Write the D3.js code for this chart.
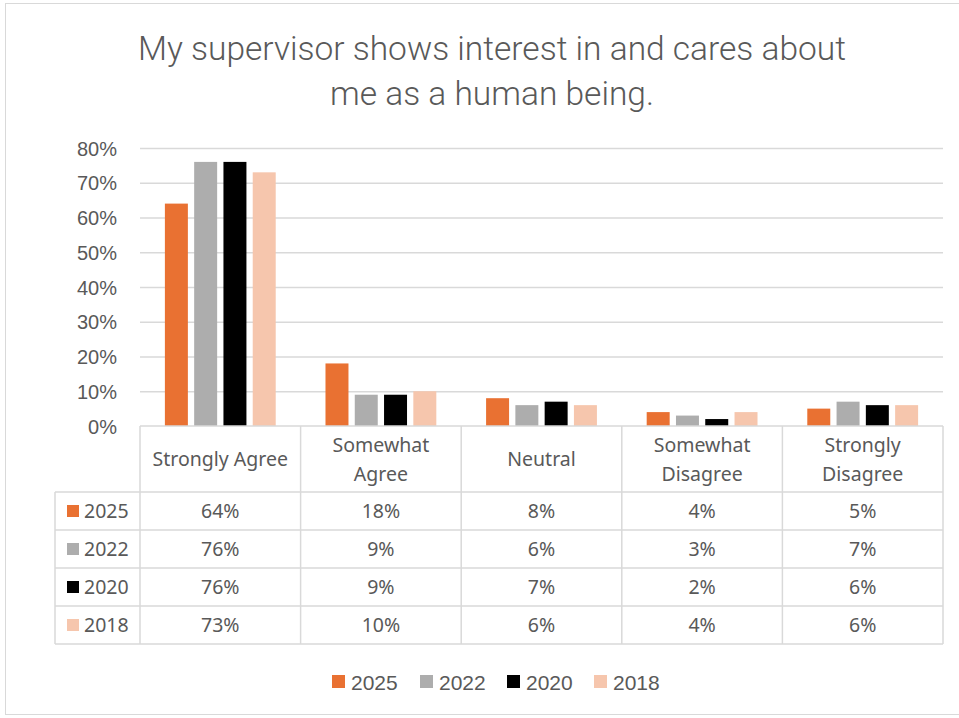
<!DOCTYPE html>
<html>
<head>
<meta charset="utf-8">
<script src="https://cdn.jsdelivr.net/npm/d3@7"></script>
<style>
  html, body { margin: 0; padding: 0; background: #fff; }
  svg { display: block; }
</style>
</head>
<body>
<svg id="chart" width="959" height="718"></svg>
<script>
// Survey responses by category and survey year
const categories = ["Strongly Agree", "Somewhat Agree", "Neutral", "Somewhat Disagree", "Strongly Disagree"];
const categoryLines = [["Strongly Agree"], ["Somewhat", "Agree"], ["Neutral"], ["Somewhat", "Disagree"], ["Strongly", "Disagree"]];
const years = ["2025", "2022", "2020", "2018"];
const values2025 = [64, 18, 8, 4, 5];
const values2022 = [76, 9, 6, 3, 7];
const values2020 = [76, 9, 7, 2, 6];
const values2018 = [73, 10, 6, 4, 6];
const yTicks = [0, 10, 20, 30, 40, 50, 60, 70, 80];
const colors = ["#E97132", "#ADADAD", "#000000", "#F6C6AD"];
const titleLines = ["My supervisor shows interest in and cares about", "me as a human being."];

const seriesValues = [values2025, values2022, values2020, values2018];

const svg = d3.select("#chart");
const textColor = "#595959";
const lineColor = "#D9D9D9";
const bodyFont = "'Noto Sans', 'Open Sans', sans-serif";
const axisFont = "'Liberation Sans', Arial, sans-serif";

// chart frame
svg.append("rect")
  .attr("x", 5.5).attr("y", 3.5).attr("width", 960).attr("height", 711)
  .attr("fill", "#fff").attr("stroke", "#D9D9D9").attr("stroke-width", 1);

// title
svg.append("g").selectAll("text").data(titleLines).join("text")
  .attr("x", 492).attr("y", (d, i) => 60 + i * 45)
  .attr("text-anchor", "middle")
  .attr("font-family", "Roboto, sans-serif")
  .attr("font-weight", 300)
  .attr("font-size", 33.5)
  .attr("fill", textColor)
  .text(d => d);

// scales
const plotLeft = 140, plotRight = 943, plotTop = 148, plotBottom = 426;
const x = d3.scaleBand().domain(categories).range([plotLeft, plotRight]).paddingInner(0).paddingOuter(0);
const inner = d3.scaleBand().domain(years).range([0, x.bandwidth()]).paddingInner(0.215).paddingOuter(0.85);
const y = d3.scaleLinear().domain([0, 80]).range([plotBottom, plotTop]);

// gridlines
svg.append("g")
  .attr("transform", `translate(${plotLeft},0)`)
  .call(d3.axisLeft(y).tickValues(yTicks.filter(t => t > 0)).tickSize(-(plotRight - plotLeft)).tickFormat(""))
  .call(g => g.select(".domain").remove())
  .call(g => g.selectAll(".tick line").attr("stroke", lineColor).attr("stroke-width", 1.3));

// y-axis labels
svg.append("g")
  .attr("transform", `translate(${plotLeft},0)`)
  .call(d3.axisLeft(y).tickValues(yTicks).tickSize(0).tickPadding(23).tickFormat(d => d + "%"))
  .call(g => g.select(".domain").remove())
  .call(g => g.selectAll("text")
    .attr("font-family", axisFont).attr("font-size", 20).attr("fill", textColor).attr("dy", "0.35em"));

// bars
const barData = [];
seriesValues.forEach((vals, si) => vals.forEach((v, ci) => barData.push({ cat: categories[ci], year: years[si], v, si })));
svg.append("g").selectAll("rect").data(barData).join("rect")
  .attr("x", d => x(d.cat) + inner(d.year))
  .attr("width", inner.bandwidth())
  .attr("y", d => y(d.v))
  .attr("height", d => y(0) - y(d.v))
  .attr("fill", d => colors[d.si]);

// data table
const rowTop = 492, rowH = 38;
const tableLeft = 55;
const tbl = svg.append("g").attr("fill", "none").attr("stroke", lineColor).attr("stroke-width", 1.5);
// header cell borders
tbl.append("line").attr("x1", plotLeft).attr("x2", plotRight).attr("y1", plotBottom).attr("y2", plotBottom);
// row borders
years.concat(["end"]).forEach((_, i) => {
  tbl.append("line").attr("x1", tableLeft).attr("x2", plotRight)
    .attr("y1", rowTop + i * rowH).attr("y2", rowTop + i * rowH);
});
// vertical borders
tbl.append("line").attr("x1", tableLeft).attr("x2", tableLeft).attr("y1", rowTop).attr("y2", rowTop + years.length * rowH);
categories.forEach(c => {
  tbl.append("line").attr("x1", x(c)).attr("x2", x(c)).attr("y1", plotBottom).attr("y2", rowTop + years.length * rowH);
});
tbl.append("line").attr("x1", plotRight).attr("x2", plotRight).attr("y1", plotBottom).attr("y2", rowTop + years.length * rowH);

// category headers
const hdr = svg.append("g").attr("font-family", bodyFont).attr("font-size", 19.5).attr("fill", textColor).attr("text-anchor", "middle");
categories.forEach((c, ci) => {
  const lines = categoryLines[ci];
  const cy = (plotBottom + rowTop) / 2;
  lines.forEach((ln, li) => {
    hdr.append("text")
      .attr("x", x(c) + x.bandwidth() / 2)
      .attr("y", cy + (li - (lines.length - 1) / 2) * 29)
      .attr("dy", "0.36em")
      .text(ln);
  });
});

// table rows
years.forEach((yr, si) => {
  const ry = rowTop + si * rowH + rowH / 2;
  svg.append("rect").attr("x", 67).attr("y", ry - 6).attr("width", 12).attr("height", 12).attr("fill", colors[si]);
  svg.append("text").attr("x", 84).attr("y", ry).attr("dy", "0.36em")
    .attr("font-family", bodyFont).attr("font-size", 19.5).attr("fill", textColor).text(yr);
  seriesValues[si].forEach((v, ci) => {
    svg.append("text")
      .attr("x", x(categories[ci]) + x.bandwidth() / 2).attr("y", ry).attr("dy", "0.36em")
      .attr("text-anchor", "middle")
      .attr("font-family", bodyFont).attr("font-size", 19.5).attr("fill", textColor)
      .text(v + "%");
  });
});

// legend
const legendX = [332, 420, 507, 594];
const legend = svg.append("g");
years.forEach((yr, si) => {
  legend.append("rect").attr("x", legendX[si]).attr("y", 675).attr("width", 13).attr("height", 13).attr("fill", colors[si]);
  legend.append("text").attr("x", legendX[si] + 19).attr("y", 682).attr("dy", "0.36em")
    .attr("font-family", axisFont).attr("font-size", 21).attr("fill", textColor).text(yr);
});
</script>
</body>
</html>
